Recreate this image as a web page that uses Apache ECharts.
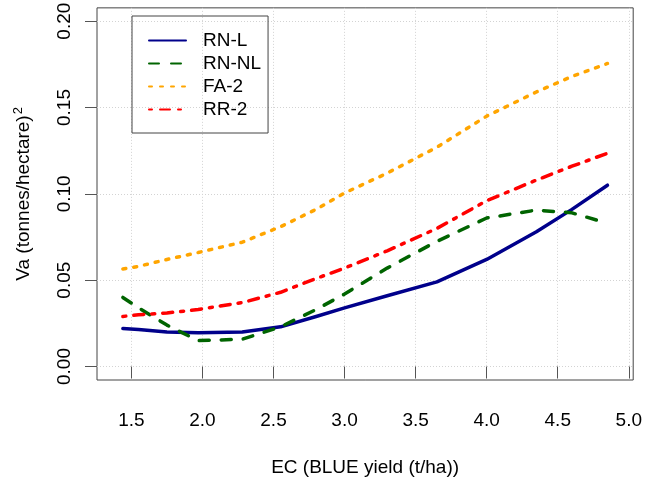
<!DOCTYPE html>
<html>
<head>
<meta charset="utf-8">
<script src="https://cdn.jsdelivr.net/npm/echarts@6/dist/echarts.min.js"></script>
<style>
html,body{margin:0;padding:0;background:#fff;}
#c{width:645px;height:482px;}
</style>
</head>
<body>
<div id="c"></div>
<script>
// ---- data ----
const xTicks = [1.5, 2.0, 2.5, 3.0, 3.5, 4.0, 4.5, 5.0];
const yTicks = [0.00, 0.05, 0.10, 0.15, 0.20];
const ec   = [1.44, 1.55, 1.75, 1.97, 2.28, 2.55, 2.8, 3.0, 3.3, 3.65, 4.0, 4.35, 4.6, 4.85];
const rnL  = [0.022, 0.0215, 0.020, 0.0195, 0.020, 0.023, 0.029, 0.034, 0.041, 0.049, 0.062, 0.078, 0.091, 0.105];
const rnNL = [0.040, 0.034, 0.024, 0.015, 0.0158, 0.023, 0.033, 0.042, 0.057, 0.0725, 0.086, 0.0906, 0.089, 0.083];
const fa2  = [0.0565, 0.058, 0.062, 0.066, 0.072, 0.081, 0.091, 0.1005, 0.112, 0.127, 0.145, 0.159, 0.168, 0.1755];
const rr2  = [0.029, 0.030, 0.031, 0.033, 0.037, 0.043, 0.051, 0.057, 0.067, 0.080, 0.096, 0.108, 0.116, 0.1235];
const seriesNames = ['RN-L', 'RN-NL', 'FA-2', 'RR-2'];

const pairs = arr => ec.map((x, i) => [x, arr[i]]);
const FONT = 'Liberation Sans, Arial, sans-serif';

const styles = [
  {color: '#00008B', type: 'solid'},
  {color: '#006400', type: [10, 12]},
  {color: '#FFA500', type: [3, 8]},
  {color: '#FF0000', type: [3, 8, 10, 8]}
];
const dataSets = [rnL, rnNL, fa2, rr2];

const chart = echarts.init(document.getElementById('c'), null, {renderer: 'canvas'});
chart.setOption({
  backgroundColor: '#fff',
  animation: false,
  textStyle: {fontFamily: FONT},
  grid: {left: 97, right: 7, top: 3, bottom: 93, show: true, borderColor: '#444', borderWidth: 1, backgroundColor: 'transparent'},
  legend: {
    orient: 'vertical',
    left: 132, top: 16,
    padding: [15, 7, 14, 16],
    borderColor: '#444', borderWidth: 1,
    itemWidth: 37, itemHeight: 20, itemGap: 4,
    itemStyle: {opacity: 0, color: 'rgba(0,0,0,0)', borderWidth: 0},
    textStyle: {fontSize: 19, color: '#000', fontFamily: FONT, padding: [0, 0, 0, 12]},
    data: seriesNames
  },
  xAxis: {
    type: 'value', min: 1.258, max: 5.031,
    name: 'EC (BLUE yield (t/ha))', nameLocation: 'middle', nameGap: 78,
    nameTextStyle: {fontSize: 19, color: '#000', fontFamily: FONT},
    axisLine: {show: false},
    axisTick: {show: true, length: 12, lineStyle: {color: '#555'}, customValues: xTicks},
    axisLabel: {fontSize: 19, color: '#000', margin: 31, customValues: xTicks, formatter: v => v.toFixed(1), fontFamily: FONT},
    splitLine: {show: true, lineStyle: {color: '#d3d3d3', type: [1, 2], width: 1}}
  },
  yAxis: {
    type: 'value', min: -0.0078, max: 0.2077,
    name: 'Va (tonnes/hectare){sup|2}', nameLocation: 'middle', nameGap: 62,
    nameTextStyle: {fontSize: 19, color: '#000', fontFamily: FONT,
      rich: {sup: {fontSize: 13, color: '#000', fontFamily: FONT, verticalAlign: 'top', padding: [0, 0, 10, 1]}}},
    axisLine: {show: false},
    axisTick: {show: true, length: 12, lineStyle: {color: '#555'}, customValues: yTicks},
    axisLabel: {fontSize: 19, color: '#000', margin: 23, rotate: 90, customValues: yTicks, formatter: v => v.toFixed(2), fontFamily: FONT},
    splitLine: {show: true, lineStyle: {color: '#d3d3d3', type: [1, 2], width: 1}}
  },
  series: seriesNames.map((n, i) => ({
    name: n, type: 'line', symbol: 'none', smooth: false,
    data: pairs(dataSets[i]),
    color: styles[i].color,
    lineStyle: {color: styles[i].color, width: 3.5, type: styles[i].type, cap: 'round', join: 'round'}
  }))
});
</script>
</body>
</html>
